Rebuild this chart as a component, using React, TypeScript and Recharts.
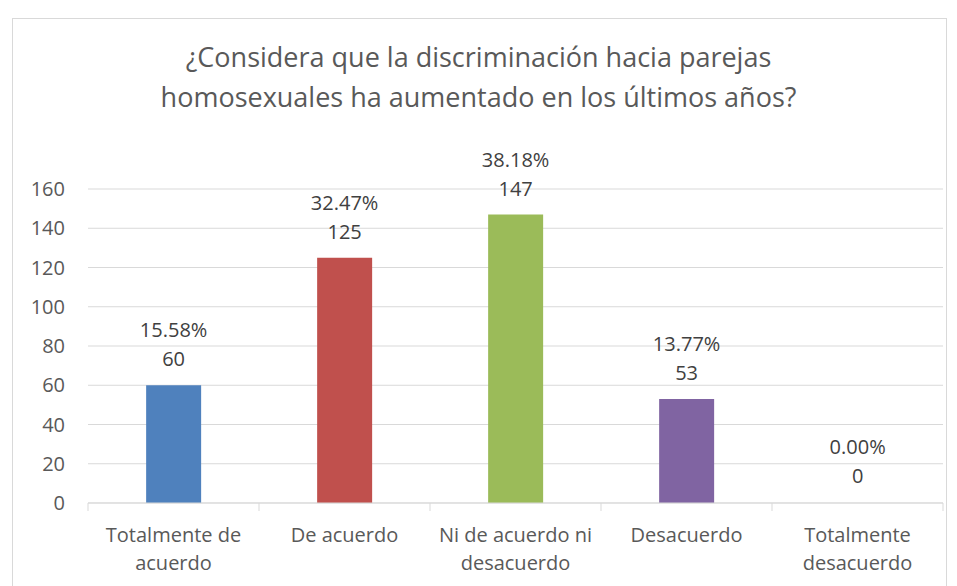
import React from 'react';
import { BarChart, Bar, XAxis, YAxis, CartesianGrid, Cell, LabelList } from 'recharts';

// line breaks as in the reference axis labels
const categories = [
  'Totalmente de\nacuerdo',
  'De acuerdo',
  'Ni de acuerdo ni\ndesacuerdo',
  'Desacuerdo',
  'Totalmente\ndesacuerdo',
];
const counts = [60, 125, 147, 53, 0];
const percents = ['15.58%', '32.47%', '38.18%', '13.77%', '0.00%'];
const barColors = ['#4f81bd', '#c0504d', '#9bbb59', '#8064a2', '#4bacc6'];
const yTicks = [0, 20, 40, 60, 80, 100, 120, 140, 160];

const data = categories.map((name, i) => ({ name, value: counts[i] }));

const FONT = '"Open Sans", sans-serif';

const CategoryTick = (props: any) => {
  const { x, y, payload, index } = props;
  const half = payload.offset ?? 85.5;
  const lines = String(payload.value).split('\n');
  return (
    <g>
      <line x1={x - half} y1={y} x2={x - half} y2={y + 8} stroke="#d9d9d9" />
      {index === categories.length - 1 && (
        <line x1={x + half} y1={y} x2={x + half} y2={y + 8} stroke="#d9d9d9" />
      )}
      <text textAnchor="middle" fontSize={20} fill="#595959" fontFamily={FONT}>
        {lines.map((l, i) => (
          <tspan key={i} x={x} y={y + 39 + i * 28}>{l}</tspan>
        ))}
      </text>
    </g>
  );
};

const BarLabel = (props: any) => {
  const { x, y, width, index } = props;
  const cx = x + width / 2;
  return (
    <g fontFamily={FONT} fontSize={20} fill="#404040" textAnchor="middle">
      <text x={cx} y={y - 48}>{percents[index]}</text>
      <text x={cx} y={y - 19}>{counts[index]}</text>
    </g>
  );
};

export default function App() {
  return (
    <div style={{ position: 'absolute', left: 0, top: 0, width: 957, height: 586, overflow: 'hidden', background: '#fff' }}>
      <div
        style={{
          position: 'absolute', left: 12, top: 18, width: 935, height: 600,
          border: '1px solid #d9d9d9', boxSizing: 'border-box',
        }}
      />
      <div
        style={{
          position: 'absolute', left: 0, top: 37, width: 957, textAlign: 'center',
          fontFamily: FONT, fontSize: 27, lineHeight: '40px', color: '#595959',
        }}
      >
        ¿Considera que la discriminación hacia parejas
        <br />
        homosexuales ha aumentado en los últimos años?
      </div>
      <div style={{ position: 'absolute', left: 0, top: 0 }}>
        <BarChart
          width={957}
          height={586}
          data={data}
          margin={{ top: 189, right: 14, bottom: 0, left: 0 }}
          barCategoryGap="34%"
        >
          <CartesianGrid vertical={false} stroke="#d9d9d9" />
          <YAxis
            domain={[0, 160]}
            ticks={yTicks}
            width={88}
            axisLine={false}
            tickLine={false}
            tickSize={0}
            tickMargin={23}
            tick={{ fontSize: 20, fill: '#595959', fontFamily: FONT }}
          />
          <XAxis
            dataKey="name"
            height={83}
            stroke="#d9d9d9"
            tickLine={false}
            tickSize={0}
            tickMargin={0}
            interval={0}
            tick={<CategoryTick />}
          />
          <Bar dataKey="value" isAnimationActive={false} minPointSize={1}>
            {data.map((d, i) => (
              <Cell key={i} fill={d.value === 0 ? 'none' : barColors[i]} />
            ))}
            <LabelList dataKey="value" content={<BarLabel />} />
          </Bar>
        </BarChart>
      </div>
    </div>
  );
}
